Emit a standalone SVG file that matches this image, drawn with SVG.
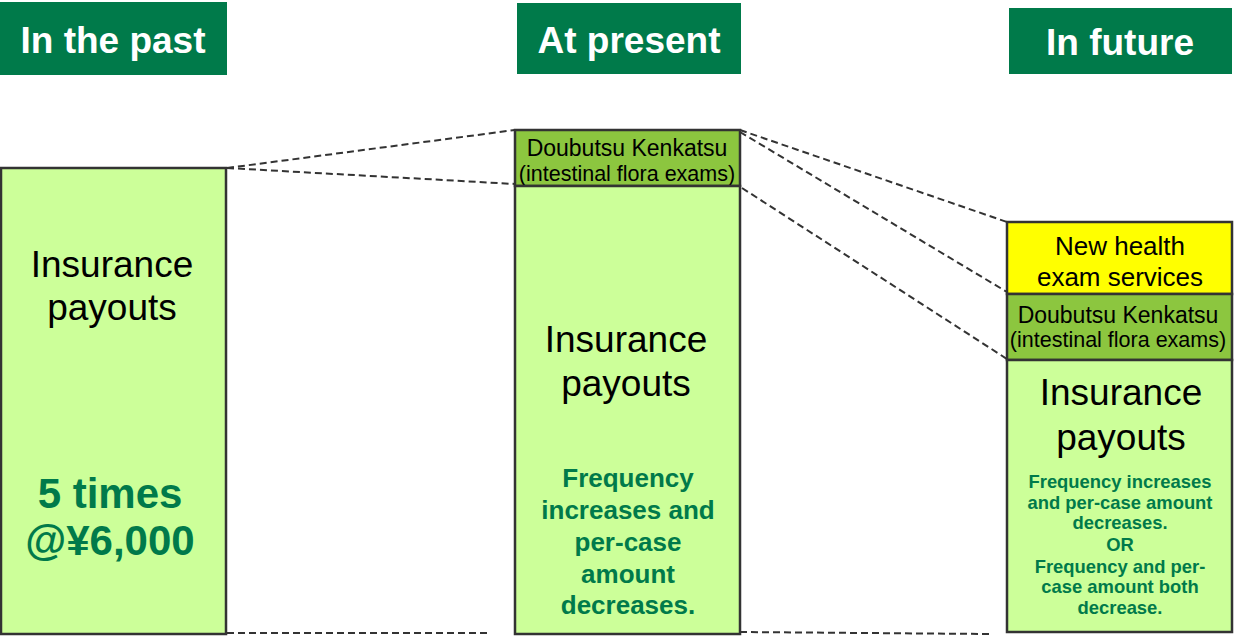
<svg xmlns="http://www.w3.org/2000/svg" width="1239" height="642" viewBox="0 0 1239 642">
<style>
text{font-family:"Liberation Sans",Arial,sans-serif;text-anchor:middle}
.hdr rect{fill:#007A4A}
.hdr text{fill:#fff;font-weight:bold;font-size:37px}
.box{stroke:#333;stroke-width:2.5}
.lg{fill:#CCFF99}
.mg{fill:#8CC63F}
.yl{fill:#FFFF00}
.big{font-size:37px;fill:#000}
.dk{font-size:23px;fill:#000}
.dk2{font-size:21.5px;fill:#000}
.gr{fill:#007A4A;font-weight:bold}
.conn line{stroke:#333;stroke-width:2;stroke-dasharray:7,4;fill:none}
</style>
<rect width="1239" height="642" fill="#fff"/>
<g id="hdr-past" class="hdr"><rect x="0" y="2" width="227" height="73"/><text x="113" y="53">In the past</text></g>
<g id="hdr-present" class="hdr"><rect x="517" y="3" width="224" height="71"/><text x="629" y="53">At present</text></g>
<g id="hdr-future" class="hdr"><rect x="1009" y="8" width="223" height="66"/><text x="1120" y="55">In future</text></g>
<g class="conn" id="connectors">
<line x1="227" y1="168" x2="515" y2="130"/>
<line x1="227" y1="168" x2="515" y2="184"/>
<line x1="740" y1="130" x2="1007" y2="222"/>
<line x1="740" y1="132" x2="1007" y2="292"/>
<line x1="742" y1="188" x2="1007" y2="359"/>
<line x1="227" y1="633" x2="490" y2="633"/>
<line x1="740" y1="632" x2="990" y2="634"/>
</g>
<g id="past-payouts">
<rect class="box lg" x="1" y="168" width="225" height="466"/>
<text class="big" x="112" y="277">Insurance</text>
<text class="big" x="112" y="320">payouts</text>
<text class="gr" x="110" y="508" font-size="42">5 times</text>
<text class="gr" x="110" y="555" font-size="42">@¥6,000</text>
</g>
<g id="present-doubutsu">
<rect class="box mg" x="515" y="130" width="225" height="56"/>
<text class="dk" x="627" y="156">Doubutsu Kenkatsu</text>
<text class="dk2" x="627" y="181">(intestinal flora exams)</text>
</g>
<g id="present-payouts">
<rect class="box lg" x="515" y="186" width="225" height="448"/>
<text class="big" x="626" y="352">Insurance</text>
<text class="big" x="626" y="396">payouts</text>
<g class="gr" font-size="26">
<text x="628" y="487">Frequency</text>
<text x="628" y="519">increases and</text>
<text x="628" y="551">per-case</text>
<text x="628" y="583">amount</text>
<text x="628" y="614">decreases.</text>
</g>
</g>
<g id="future-new">
<rect class="box yl" x="1007" y="222" width="225" height="72"/>
<text x="1120" y="255" font-size="26">New health</text>
<text x="1120" y="286" font-size="26">exam services</text>
</g>
<g id="future-doubutsu">
<rect class="box mg" x="1007" y="294" width="225" height="66"/>
<text class="dk" x="1118" y="323">Doubutsu Kenkatsu</text>
<text class="dk2" x="1118" y="347">(intestinal flora exams)</text>
</g>
<g id="future-payouts">
<rect class="box lg" x="1007" y="360" width="225" height="272"/>
<text class="big" x="1121" y="405">Insurance</text>
<text class="big" x="1121" y="450">payouts</text>
<g class="gr" font-size="18.4">
<text x="1120" y="488">Frequency increases</text>
<text x="1120" y="509">and per-case amount</text>
<text x="1120" y="529">decreases.</text>
<text x="1120" y="551">OR</text>
<text x="1120" y="573">Frequency and per-</text>
<text x="1120" y="593">case amount both</text>
<text x="1120" y="614">decrease.</text>
</g>
</g>
</svg>
